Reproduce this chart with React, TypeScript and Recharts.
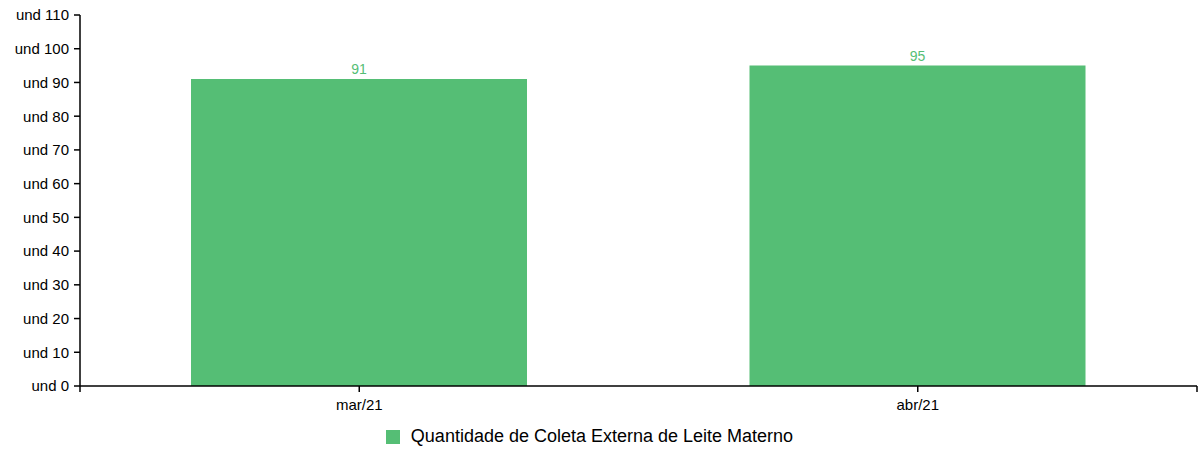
import React from 'react';
import {
  BarChart,
  Bar,
  XAxis,
  YAxis,
  Legend,
  LabelList,
  usePlotArea,
} from 'recharts';

const months = ['mar/21', 'abr/21'];
const coletaExterna = [91, 95];
const yTicks = [0, 10, 20, 30, 40, 50, 60, 70, 80, 90, 100, 110];

const data = months.map((m, i) => ({ month: m, qtd: coletaExterna[i] }));

const GREEN = '#55be75';
const FONT = '"Liberation Sans", Arial, sans-serif';

// d3 style outer ticks at the ends of the x axis
const OuterTicks = () => {
  const area = usePlotArea();
  if (!area) return null;
  const y = area.y + area.height;
  return (
    <g>
      <line x1={area.x} y1={y} x2={area.x} y2={y + 6} stroke="#000" strokeWidth={1.5} />
      <line x1={area.x + area.width} y1={y} x2={area.x + area.width} y2={y + 6} stroke="#000" strokeWidth={1.5} />
    </g>
  );
};

export default function App() {
  return (
    <div style={{ position: 'absolute', left: 0, top: 0, width: 1199, height: 450, background: '#fff', fontFamily: FONT }}>
      <BarChart
        width={1199}
        height={450}
        data={data}
        margin={{ top: 15, right: 2, left: 0, bottom: 2 }}
        barSize={336}
      >
        <XAxis
          dataKey="month"
          tick={{ fill: '#000', fontSize: 15, fontFamily: FONT }}
          tickLine={{ stroke: '#000', strokeWidth: 1.5 }}
          axisLine={{ stroke: '#000', strokeWidth: 1.5 }}
          tickSize={6}
          tickMargin={7}
          height={38}
        />
        <YAxis
          domain={[0, 110]}
          ticks={yTicks}
          interval={0}
          width={80}
          tickFormatter={(v) => `und ${v}`}
          tick={{ fill: '#000', fontSize: 15, fontFamily: FONT }}
          tickLine={{ stroke: '#000', strokeWidth: 1.5 }}
          axisLine={{ stroke: '#000', strokeWidth: 1.5 }}
          tickSize={6}
          tickMargin={5}
        />
        <Legend
          verticalAlign="bottom"
          iconType="square"
          iconSize={14}
          wrapperStyle={{ fontSize: 18, fontFamily: FONT, color: '#000', lineHeight: '24px', left: -4 }}
          formatter={(value) => <span style={{ color: '#000', paddingLeft: 7 }}>{value}</span>}
        />
        <Bar
          dataKey="qtd"
          name="Quantidade de Coleta Externa de Leite Materno"
          fill={GREEN}
          isAnimationActive={false}
        >
          <LabelList dataKey="qtd" position="top" fill={GREEN} fontSize={14} fontFamily={FONT} offset={5} />
        </Bar>
        <OuterTicks />
      </BarChart>
    </div>
  );
}
